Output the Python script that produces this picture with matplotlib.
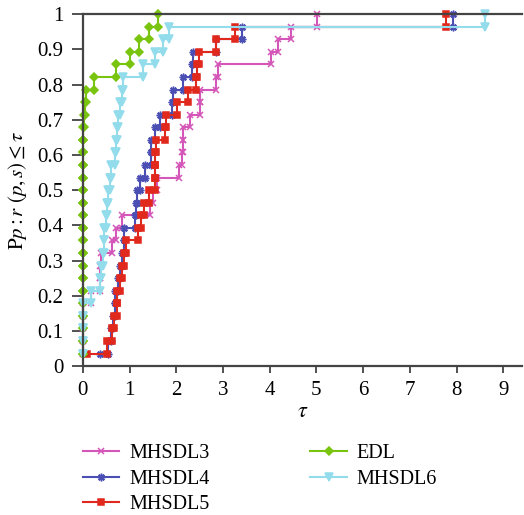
import numpy as np
import matplotlib
matplotlib.use("Agg")
import matplotlib.pyplot as plt

# performance profile data: sorted tau values for 28 problems per method
n_prob = 28
mhsdl3 = [0, 0, 0, 0, 0, 0.17, 0.36, 0.37, 0.40, 0.63, 0.72, 0.85, 1.43, 1.50,
          1.58, 2.06, 2.13, 2.15, 2.15, 2.29, 2.50, 2.50, 2.85, 2.90, 4.02, 4.18,
          4.45, 5.02]
mhsdl4 = [0.36, 0.55, 0.61, 0.64, 0.68, 0.68, 0.76, 0.79, 0.84, 0.88, 0.88, 1.11,
          1.13, 1.15, 1.22, 1.34, 1.46, 1.47, 1.54, 1.66, 1.90, 1.93, 2.14, 2.33,
          2.36, 2.85, 3.40, 7.93]
mhsdl5 = [0.08, 0.51, 0.62, 0.67, 0.74, 0.74, 0.80, 0.84, 0.88, 0.93, 1.18, 1.24,
          1.31, 1.41, 1.54, 1.54, 1.55, 1.57, 1.76, 1.78, 2.02, 2.26, 2.42, 2.45,
          2.49, 2.85, 3.25, 7.77]
edl = [0] * 19 + [0.02, 0.05, 0.06, 0.24, 0.72, 1.0, 1.2, 1.41, 1.61]
mhsdl6 = [0, 0, 0, 0, 0, 0.17, 0.36, 0.40, 0.44, 0.45, 0.46, 0.49, 0.52, 0.54,
          0.58, 0.61, 0.69, 0.72, 0.74, 0.76, 0.79, 0.84, 0.86, 1.29, 1.55, 1.72,
          1.85, 8.60]

names = ["MHSDL3", "MHSDL4", "MHSDL5", "EDL", "MHSDL6"]
series = [mhsdl3, mhsdl4, mhsdl5, edl, mhsdl6]
colors = ["#d356b8", "#4b4fb3", "#e0281c", "#78c40e", "#92dceb"]
markers = ["x", (8, 2, 0), "s", "D", "v"]
msizes = [4.5, 5.5, 4.8, 4.2, 6.0]

plt.rcParams["font.family"] = ["Liberation Serif", "DejaVu Serif"]
plt.rcParams["mathtext.fontset"] = "stix"

fig = plt.figure(figsize=(5.24, 5.15), dpi=100)
ax = fig.add_axes([0.158, 0.289, 0.838, 0.6835])

levels = np.arange(1, n_prob + 1) / n_prob
for name, t, c, m, ms in zip(names, series, colors, markers, msizes):
    t = np.sort(np.array(t, dtype=float))
    xs = np.repeat(t, 2)[1:]
    ys = np.repeat(levels, 2)[:-1]
    ax.plot(xs, ys, color=c, lw=1.5, marker=m, ms=ms, mew=1.1,
            mec=c, mfc=c, label=name, clip_on=False)

ax.set_xlim(0, 9.4)
ax.set_ylim(0, 1)
ax.set_xticks(range(10))
ax.set_yticks(np.arange(0, 1.01, 0.1))
ax.set_yticklabels(["0"] + ["%.1f" % v for v in np.arange(0.1, 0.95, 0.1)] + ["1"])
ax.tick_params(axis="both", labelsize=15, direction="out", color="#333333",
               width=1.2, pad=6)
ax.tick_params(axis="y", length=8)
ax.tick_params(axis="x", length=5)
for s in ["left", "bottom", "top"]:
    ax.spines[s].set_color("#444444")
    ax.spines[s].set_linewidth(1.6)
ax.spines["right"].set_visible(False)

ax.set_xlabel(r"$\tau$", fontsize=16, labelpad=2)
ax.set_ylabel(r"$\mathrm{P}p{:}r\ (p,s) \leq \tau$", fontsize=15, labelpad=6)

ax.legend(loc="upper left", bbox_to_anchor=(83 / 524, 1 - 444 / 515),
          bbox_transform=fig.transFigure, ncol=2, frameon=False,
          fontsize=14.5, handlelength=1.8, columnspacing=5.0, labelspacing=0.32,
          handletextpad=0.5, borderpad=0, borderaxespad=0)

fig.savefig("out.png", dpi=100)
